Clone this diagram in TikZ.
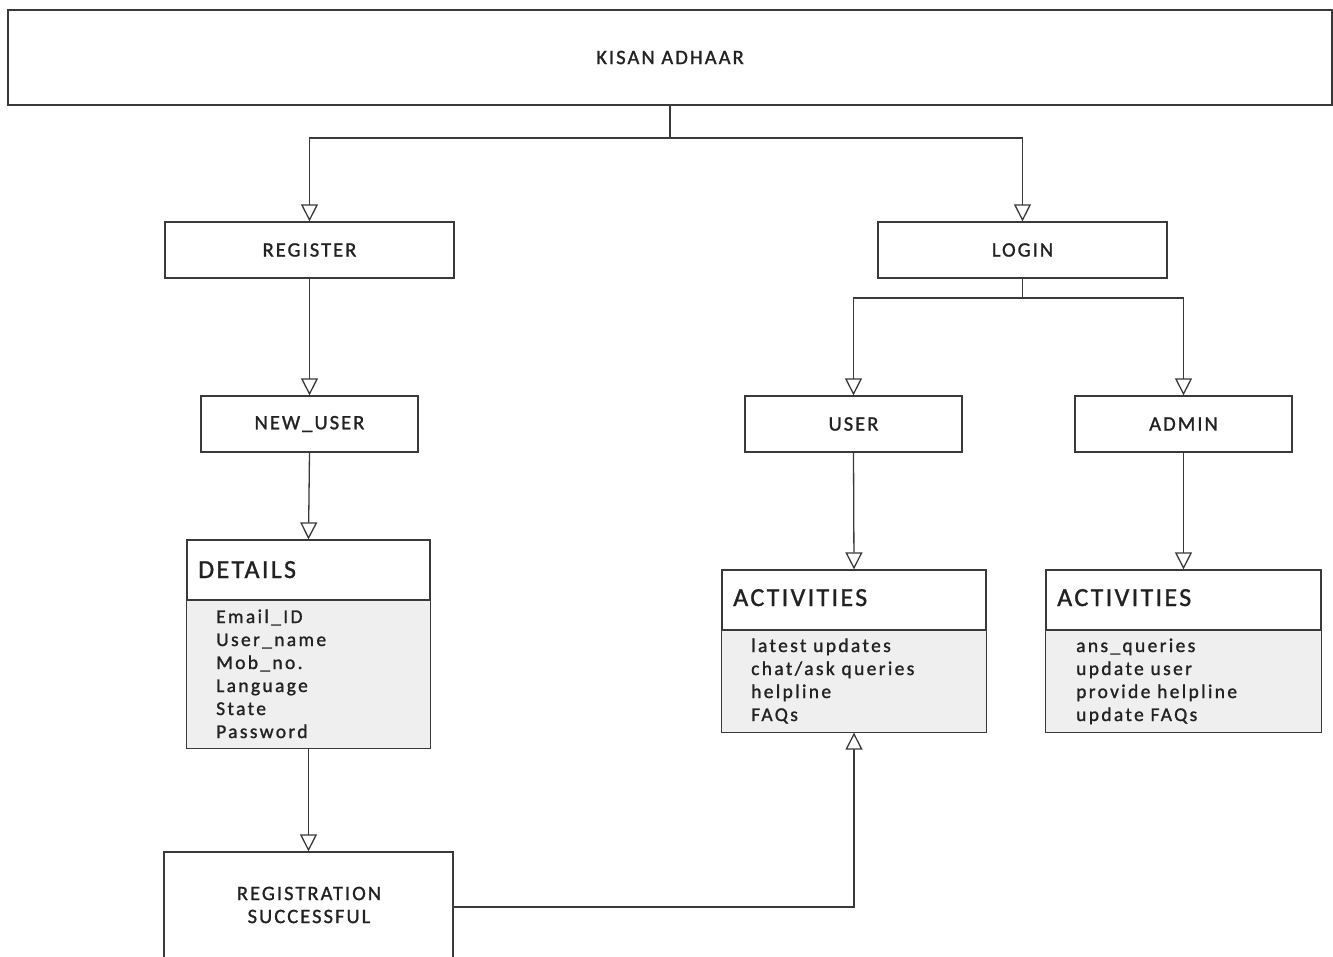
\documentclass[tikz,border=0pt]{standalone}
\usepackage{fontspec}
\setmainfont{Carlito}
\newfontfamily\lblfont[LetterSpace=10,FakeBold=1.2]{Carlito}
\newfontfamily\ttlfont[LetterSpace=9,FakeBold=1.2]{Carlito}
\newfontfamily\itmfont[LetterSpace=12,FakeBold=1.2]{Carlito}
\usetikzlibrary{arrows.meta}
\definecolor{ln}{HTML}{3A3A3A}
\definecolor{tx}{HTML}{222222}
\definecolor{cmp}{HTML}{EFEFEF}
\begin{document}
\begin{tikzpicture}[x=1pt,y=-1pt,
  box/.style={draw=ln, line width=1.3pt, fill=white, inner sep=0pt, text=tx,
    font=\lblfont\fontsize{20.5}{24}\selectfont, align=center},
  ttl/.style={anchor=base west, inner sep=0pt, text=tx, font=\ttlfont\fontsize{26}{30}\selectfont},
  itm/.style={anchor=base west, inner sep=0pt, text=tx, font=\itmfont\fontsize{19.5}{23}\selectfont},
  line/.style={draw=ln, line width=1.3pt},
  conn/.style={line, -{Triangle[open,length=17pt,width=17pt,fill=white]}}
]
\useasboundingbox (0,0) rectangle (1333,956);
\clip (0,0) rectangle (1333,956);
\fill[white] (0,0) rectangle (1333,956);

% boxes
\node[box, minimum width=1324pt, minimum height=95pt] (top) at (670,57.5) {KISAN ADHAAR};
\node[box, minimum width=289pt, minimum height=56pt] (reg) at (309.5,250) {REGISTER};
\node[box, minimum width=289pt, minimum height=56pt] (login) at (1022.5,250) {LOGIN};
\node[box, minimum width=217pt, minimum height=56pt] (newuser) at (309.5,424) {NEW\_USER};
\node[box, minimum width=217pt, minimum height=56pt] (user) at (853.5,424) {USER};
\node[box, minimum width=217pt, minimum height=56pt] (admin) at (1183.5,424) {ADMIN};
\node[box, minimum width=289pt, minimum height=110pt] (regsuc) at (308.5,907) {};
\node[box, anchor=center, draw=none, fill=none] (regsuctxt) at (309,905) {REGISTRATION\\[-1pt]SUCCESSFUL};

% class-like boxes
\node[box, minimum width=243pt, minimum height=208pt] (details) at (308.5,644) {};
\node[box, minimum width=264pt, minimum height=162pt] (act1) at (854,651) {};
\node[box, minimum width=275pt, minimum height=162pt] (act2) at (1183.5,651) {};

\foreach \b/\d in {details/600, act1/630, act2/630}{
  \fill[cmp] ([xshift=0.65pt]\b.west |- 0,\d) rectangle ([xshift=-0.65pt,yshift=0.65pt]\b.south east);
  \draw[line] (\b.west |- 0,\d) -- (\b.east |- 0,\d);
}

\node[ttl] (dt) at (198,578) {DETAILS};
\node[ttl] (a1t) at (733,606) {ACTIVITIES};
\node[ttl] (a2t) at (1057,606) {ACTIVITIES};

\foreach \t [count=\i] in {Email\_ID, User\_name, Mob\_no., Language, State, Password}
  \node[itm] (d\i) at (216,{623+23*(\i-1)}) {\t};
\foreach \t [count=\i] in {latest updates, chat/ask queries, helpline, FAQs}
  \node[itm] (u\i) at (751,{652+23*(\i-1)}) {\t};
\foreach \t [count=\i] in {ans\_queries, update user, provide helpline, update FAQs}
  \node[itm] (m\i) at (1076,{652+23*(\i-1)}) {\t};

% connectors
\coordinate (j1) at (670,138);
\draw[line] (top.south) -- (j1);
\draw[conn] (j1) -| (reg.north);
\draw[conn] (j1) -| (login.north);
\coordinate (j2) at (1022.5,298);
\draw[line] (login.south) -- (j2);
\draw[conn] (j2) -| (user.north);
\draw[conn] (j2) -| (admin.north);
\draw[conn] (reg.south) -- (newuser.north);
\draw[conn] (newuser.south) -- (details.north);
\draw[conn] (details.south) -- (regsuc.north);
\draw[conn] (user.south) -- (act1.north);
\draw[conn] (admin.south) -- (act2.north);
\draw[conn] (regsuc.east) -| (act1.south);
\end{tikzpicture}
\end{document}
